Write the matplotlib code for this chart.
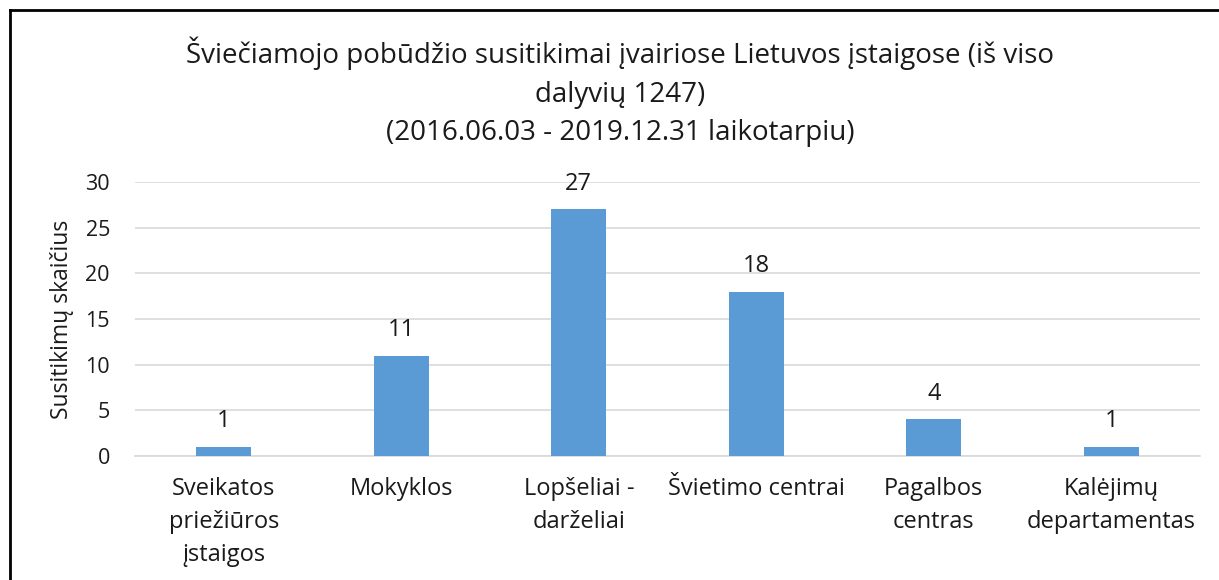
import matplotlib
matplotlib.use("Agg")
import matplotlib.pyplot as plt
from matplotlib.lines import Line2D

plt.rcParams['font.family'] = ['Open Sans', 'DejaVu Sans']

categories = ["Sveikatos\npriežiūros\nįstaigos", "Mokyklos", "Lopšeliai -\ndarželiai",
              "Švietimo centrai", "Pagalbos\ncentras", "Kalėjimų\ndepartamentas"]
values = [1, 11, 27, 18, 4, 1]
yticks = [0, 5, 10, 15, 20, 25, 30]

title = ("Šviečiamojo pobūdžio susitikimai įvairiose Lietuvos įstaigose (iš viso\n"
         "dalyvių 1247)\n(2016.06.03 - 2019.12.31 laikotarpiu)")

fig = plt.figure(figsize=(12.19, 5.8), dpi=100)
ax = fig.add_axes([135 / 1219, 1 - 456 / 580, (1200 - 135) / 1219, (456 - 182) / 580])

x = range(len(categories))
ax.bar(x, values, width=0.31, color='#5b9bd5', zorder=3)
for xi, v in zip(x, values):
    ax.annotate(str(v), (xi, v), xytext=(0, 10), textcoords='offset points',
                ha='center', va='bottom', fontsize=17, color='#1a1a1a')

ax.set_xlim(-0.5, len(categories) - 0.5)
ax.set_ylim(0, 30)
ax.set_yticks(yticks)
ax.set_xticks(list(x))
ax.set_xticklabels(categories, fontsize=17, color='#1a1a1a', linespacing=1.5)
ax.tick_params(axis='y', labelsize=15.5, labelcolor='#1a1a1a', length=0, pad=18)
ax.tick_params(axis='x', length=0, pad=15)
ax.grid(axis='y', color='#d9d9d9', linewidth=1.2, zorder=0)
for s in ['top', 'right', 'left']:
    ax.spines[s].set_visible(False)
ax.spines['bottom'].set_color('#d9d9d9')
ax.spines['bottom'].set_linewidth(1.2)
ax.set_ylabel("Susitikimų skaičius", fontsize=16.5, color='#1a1a1a', labelpad=8)

fig.text(620 / 1219, 1 - 92 / 580, title, ha='center', va='center', fontsize=20,
         color='#1a1a1a', linespacing=1.5)

# chart frame (left and top edges)
fig.add_artist(Line2D([10 / 1219, 10 / 1219], [0, 1 - 10 / 580], transform=fig.transFigure,
                      color='black', linewidth=2))
fig.add_artist(Line2D([10 / 1219, 1], [1 - 10 / 580, 1 - 10 / 580], transform=fig.transFigure,
                      color='black', linewidth=2))

fig.savefig('out.png', dpi=100)
